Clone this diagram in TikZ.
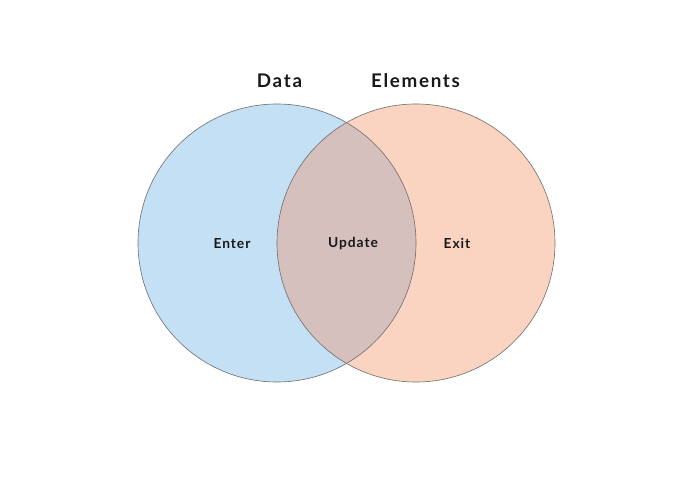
\documentclass[tikz,border=0pt]{standalone}
\usepackage{fontspec}
\setmainfont{Lato}
\newfontfamily\titlefont[LetterSpace=9]{Lato Bold}
\newfontfamily\labelfont[LetterSpace=7]{Lato Bold}
\definecolor{leftblue}{RGB}{195,224,245}
\definecolor{rightorange}{RGB}{251,212,193}
\definecolor{overlapc}{RGB}{214,192,189}
\definecolor{edgegray}{RGB}{110,110,110}
\definecolor{textc}{RGB}{25,25,25}
\tikzset{
  titletext/.style={font=\titlefont\fontsize{18.8}{21}\selectfont, text=textc, inner sep=0pt},
  regiontext/.style={font=\labelfont\fontsize{13.8}{16}\selectfont, text=textc, inner sep=0pt},
  ring/.style={draw=edgegray, line width=0.6pt}
}
\begin{document}
\begin{tikzpicture}[x=1pt,y=-1pt]
\useasboundingbox (0,0) rectangle (681,489);
\fill[white] (0,0) rectangle (681,489);
\coordinate (cl) at (277,243);
\coordinate (cr) at (416,243);
\fill[leftblue] (cl) circle[radius=139];
\fill[rightorange] (cr) circle[radius=139];
\begin{scope}
  \clip (cl) circle[radius=139];
  \fill[overlapc] (cr) circle[radius=139];
\end{scope}
\draw[ring] (cl) circle[radius=139];
\draw[ring] (cr) circle[radius=139];
\node[titletext] (data) at (279.5,81) {Data};
\node[titletext] (elements) at (415.5,81) {Elements};
\node[regiontext] (enter) at (232,243.5) {Enter};
\node[regiontext] (update) at (353,243.5) {Update};
\node[regiontext] (exit) at (457,243.5) {Exit};
\end{tikzpicture}
\end{document}
